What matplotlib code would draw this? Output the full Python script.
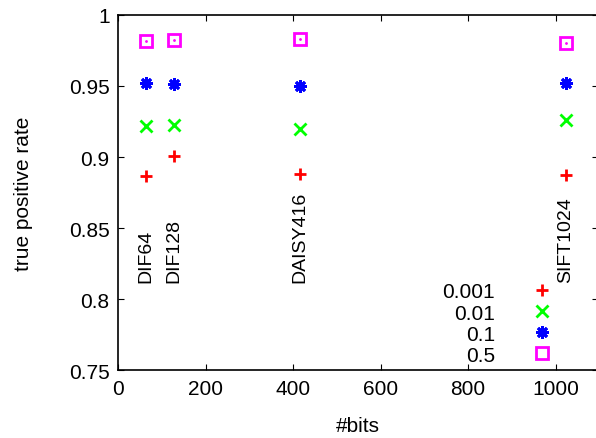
import matplotlib
matplotlib.use('Agg')
import matplotlib.pyplot as plt

# descriptor sizes in bits and their names
bits = [64, 128, 416, 1024]
names = ['DIF64', 'DIF128', 'DAISY416', 'SIFT1024']

# true positive rate per threshold
tpr_0001 = [0.8865, 0.9005, 0.8884, 0.8872]
tpr_001 = [0.9220, 0.9227, 0.9197, 0.9257]
tpr_01 = [0.9524, 0.9517, 0.9496, 0.9520]
tpr_05 = [0.9814, 0.9825, 0.9830, 0.9804]

series = [
    ('0.001', tpr_0001, '+', '#ff0000'),
    ('0.01', tpr_001, 'x', '#00ff00'),
    ('0.1', tpr_01, (8, 2, 0), '#0000ff'),
    ('0.5', tpr_05, 's', '#ff00ff'),
]

plt.rcParams['font.family'] = ['Liberation Sans', 'DejaVu Sans']
plt.rcParams['font.size'] = 15

fig = plt.figure(figsize=(5.96, 4.39), dpi=100)
ax = fig.add_axes([118 / 596, 0.154, 480 / 596, 0.810])

for label, vals, mk, c in series:
    if mk == 's':
        ax.plot(bits, vals, linestyle='none', marker=mk, markersize=9,
                markerfacecolor='none', markeredgecolor=c, markeredgewidth=2,
                label=label)
        ax.plot(bits, vals, linestyle='none', marker='.', markersize=2,
                color=c)
    else:
        ax.plot(bits, vals, linestyle='none', marker=mk, markersize=9,
                color=c, markeredgewidth=2, label=label)

for b, n in zip(bits, names):
    ax.text(b, 0.812, n, rotation=90, ha='center', va='bottom', fontsize=14)

ax.set_xlim(0, 480 / 0.4375)
ax.set_ylim(0.75, 1.0)
ax.set_xticks([0, 200, 400, 600, 800, 1000])
ax.set_yticks([0.75, 0.8, 0.85, 0.9, 0.95, 1.0])
ax.set_yticklabels(['0.75', '0.8', '0.85', '0.9', '0.95', '1'])
ax.tick_params(direction='in', length=4, top=True, right=True, pad=6)
for s in ax.spines.values():
    s.set_linewidth(1.2)

ax.set_xlabel('#bits', labelpad=13)
ax.set_ylabel('true positive rate', labelpad=26)

handles, labels = ax.get_legend_handles_labels()
ax.legend(handles, labels, loc='lower right', bbox_to_anchor=(0.9, 0.016),
          frameon=False, markerfirst=False, handlelength=0.8,
          handletextpad=1.85, labelspacing=0.1, borderaxespad=0, borderpad=0)

fig.savefig('out.png', dpi=100)
